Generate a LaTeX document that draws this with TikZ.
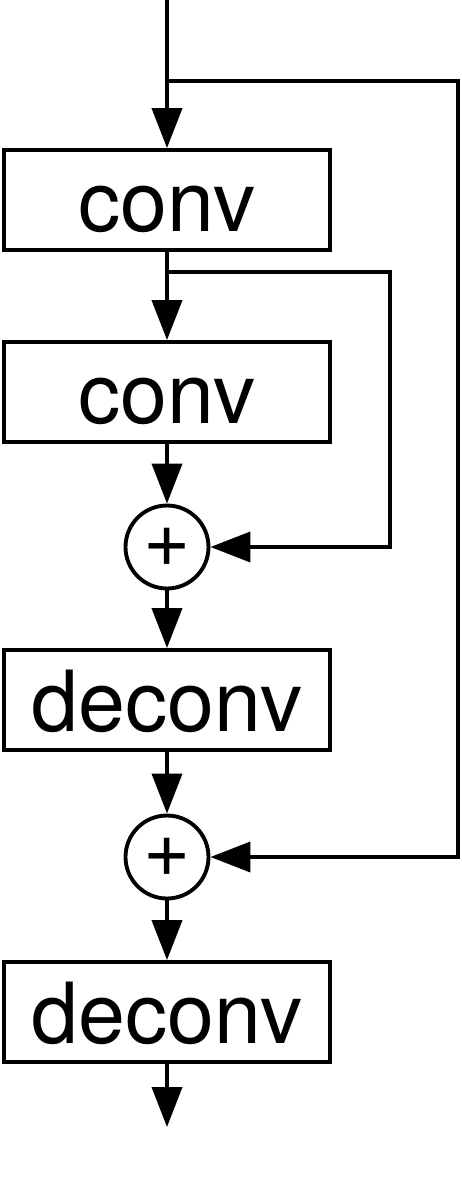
\documentclass[tikz,border=0pt]{standalone}
\usepackage{fontspec}
\setmainfont{TeX Gyre Heros}
\usepackage{tikz}
\usetikzlibrary{arrows.meta}
\tikzset{
  layerbox/.style={draw,line width=2.2pt,minimum width=6.52cm,minimum height=2cm,
    inner sep=0pt,text height=1.24cm,text depth=0pt,font=\fontsize{48}{56}\selectfont},
  addnode/.style={draw,circle,line width=2.2pt,minimum size=1.66cm,inner sep=0pt,
    font=\fontsize{46}{50}\selectfont},
  link/.style={line width=2.2pt},
}

\begin{document}
\begin{tikzpicture}[>={Triangle[length=0.8cm,width=0.6cm]},x=0.02cm,y=-0.02cm]
  \useasboundingbox (0,0) rectangle (462,1187);
  \node[layerbox] (conv1) at (167,200) {conv};
  \node[layerbox] (conv2) at (167,392) {conv};
  \node[addnode] (add1) at (167,547) {+};
  \node[layerbox] (deconv1) at (167,700) {deconv};
  \node[addnode] (add2) at (167,857) {+};
  \node[layerbox] (deconv2) at (167,1012) {deconv};
  \coordinate (in) at (167,0);
  \coordinate (tap1) at (167,81);
  \coordinate (tap2) at (167,272);
  \coordinate (r1) at (458,81);
  \coordinate (r2) at (390,272);
  \coordinate (out) at (167,1127);
  % main path
  \draw[link,->] (in) -- (conv1.north);
  \draw[link,->] (conv1.south) -- (conv2.north);
  \draw[link,->] (conv2.south) -- (add1.north);
  \draw[link,->] (add1.south) -- (deconv1.north);
  \draw[link,->] (deconv1.south) -- (add2.north);
  \draw[link,->] (add2.south) -- (deconv2.north);
  \draw[link,->] (deconv2.south) -- (out);
  % skip connections
  \draw[link,->] (tap2) -- (r2) |- (add1.east);
  \draw[link,->] (tap1) -- (r1) |- (add2.east);
\end{tikzpicture}
\end{document}
